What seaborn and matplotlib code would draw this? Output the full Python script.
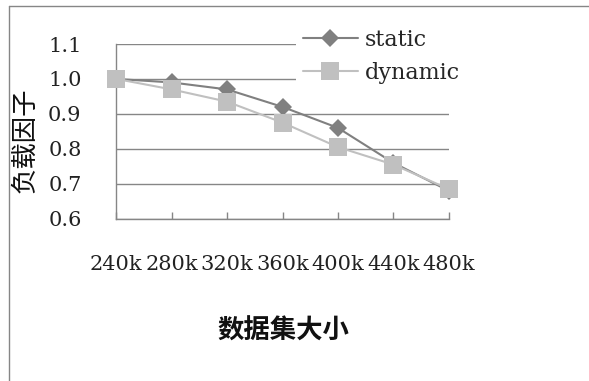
import matplotlib
matplotlib.use("Agg")
import matplotlib.pyplot as plt
from matplotlib.lines import Line2D
import seaborn as sns
import pandas as pd

# data
sizes = ["240k", "280k", "320k", "360k", "400k", "440k", "480k"]
static_vals = [1.00, 0.99, 0.97, 0.92, 0.86, 0.76, 0.68]
dynamic_vals = [1.00, 0.97, 0.935, 0.875, 0.805, 0.755, 0.685]
y_ticks = [0.6, 0.7, 0.8, 0.9, 1.0, 1.1]

df = pd.DataFrame({"size": sizes, "static": static_vals, "dynamic": dynamic_vals})

sns.set_style("white")
plt.rcParams["font.family"] = ["DejaVu Serif"]
CJK = ["Noto Sans CJK SC", "DejaVu Sans"]

W, H = 589, 381
fig = plt.figure(figsize=(W / 100, H / 100), dpi=100)
ax = fig.add_axes([116.3 / W, 1 - 218.7 / H, (448.7 - 116.3) / W, (218.7 - 44) / H])

grid_c = "#868686"
sns.lineplot(data=df, x="size", y="static", ax=ax, color="#808080", lw=1.5,
             marker="D", markersize=9.5, markeredgewidth=0, label="static",
             clip_on=False, zorder=3)
sns.lineplot(data=df, x="size", y="dynamic", ax=ax, color="#c0c0c0", lw=1.5,
             marker="s", markersize=13, markeredgewidth=0, label="dynamic",
             clip_on=False, zorder=4)

ax.set_xlim(0, len(sizes) - 1)
ax.set_ylim(0.6, 1.1)
ax.set_yticks(y_ticks)
ax.set_yticklabels([f"{v:.1f}" for v in y_ticks])
ax.set_xlabel("")
ax.set_ylabel("")

ax.yaxis.grid(True, color=grid_c, lw=1)
ax.xaxis.grid(False)
for side in ("top", "right"):
    ax.spines[side].set_visible(False)
for side in ("left", "bottom"):
    ax.spines[side].set_color(grid_c)
    ax.spines[side].set_linewidth(1)

ax.tick_params(axis="x", bottom=True, direction="in", length=5, width=1,
               color=grid_c, pad=26, labelsize=15, labelcolor="#222222")
ax.tick_params(axis="y", left=False, length=0, pad=25, labelsize=15,
               labelcolor="#222222")

ax.get_legend().remove()
handles, labels = ax.get_legend_handles_labels()
leg = fig.legend(handles, labels, loc="upper left",
                 bbox_to_anchor=(296 / W, 1 - 22 / H),
                 frameon=True, fancybox=False, facecolor="white",
                 edgecolor="none", framealpha=1, fontsize=16,
                 handlelength=2.5, handletextpad=0.3, labelspacing=0.5,
                 borderpad=0.3, borderaxespad=0)

fig.text(25 / W, 1 - 140 / H, "负载因子", rotation=90, ha="center", va="center",
         fontsize=19, family=CJK, color="#111111")
fig.text(283 / W, 1 - 331 / H, "数据集大小", ha="center", va="center",
         fontsize=19, fontweight="bold", family=CJK, color="#111111")

# outer chart border (top and left edges)
fig.add_artist(Line2D([9 / W, 1], [1 - 6 / H, 1 - 6 / H], transform=fig.transFigure,
                      color=grid_c, lw=1))
fig.add_artist(Line2D([9 / W, 9 / W], [0, 1 - 6 / H], transform=fig.transFigure,
                      color=grid_c, lw=1))

fig.savefig("out.png", dpi=100, facecolor="white")
